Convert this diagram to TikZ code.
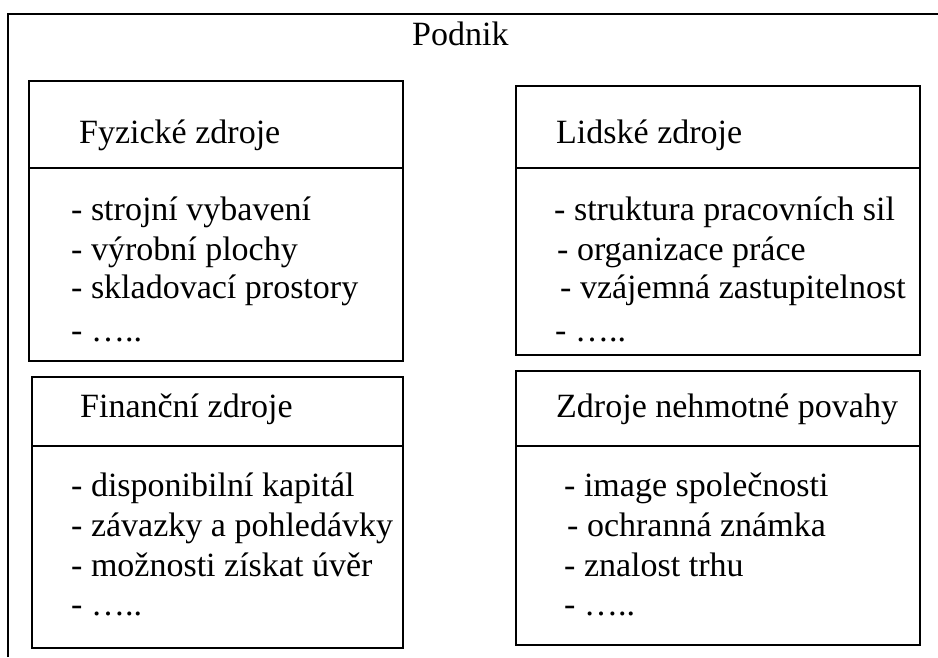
\documentclass[tikz,border=0pt]{standalone}
\usepackage{fontspec}
\setmainfont{Liberation Serif}
\begin{document}
\begin{tikzpicture}[x=1pt,y=-1pt,
  frame/.style={line width=1.4pt},
  resbox/.style={draw, line width=1.4pt, anchor=north west, inner sep=0pt, outer sep=0pt},
  txt/.style={anchor=base west, inner sep=0pt, font=\fontsize{34}{40}\selectfont},
]
\useasboundingbox (0,0) rectangle (938,657);
\fill[white] (0,0) rectangle (938,657);

% enterprise frame (open to the right and bottom)
\draw[frame] (8,657) |- (938,14);
\node[txt] (podnik) at (412,45) {Podnik};

% resource boxes
\node[resbox, minimum width=374pt, minimum height=280pt] (fyz) at (29,81) {};
\node[resbox, minimum width=404pt, minimum height=269pt] (lid) at (516,86) {};
\node[resbox, minimum width=371pt, minimum height=271pt] (fin) at (32,377) {};
\node[resbox, minimum width=404pt, minimum height=274pt] (neh) at (516,371) {};

% header dividers
\draw[frame] (fyz.west |- 0,168) -- (fyz.east |- 0,168);
\draw[frame] (lid.west |- 0,168) -- (lid.east |- 0,168);
\draw[frame] (fin.west |- 0,446) -- (fin.east |- 0,446);
\draw[frame] (neh.west |- 0,446) -- (neh.east |- 0,446);

% physical resources
\node[txt] (fyzT) at (79,143) {Fyzické zdroje};
\node[txt] (fyz1) at (71,220) {- strojní vybavení};
\node[txt] (fyz2) at (71,260) {- výrobní plochy};
\node[txt] (fyz3) at (71,298) {- skladovací prostory};
\node[txt] (fyz4) at (71,341) {- …..};

% human resources
\node[txt] (lidT) at (556,143) {Lidské zdroje};
\node[txt] (lid1) at (554,220) {- struktura pracovních sil};
\node[txt] (lid2) at (557,260) {- organizace práce};
\node[txt] (lid3) at (560,298) {- vzájemná zastupitelnost};
\node[txt] (lid4) at (555,341) {- …..};

% financial resources
\node[txt] (finT) at (80,417) {Finanční zdroje};
\node[txt] (fin1) at (71,496) {- disponibilní kapitál};
\node[txt] (fin2) at (71,536) {- závazky a pohledávky};
\node[txt] (fin3) at (71,576) {- možnosti získat úvěr};
\node[txt] (fin4) at (71,615) {- …..};

% intangible resources
\node[txt] (nehT) at (556,417) {Zdroje nehmotné povahy};
\node[txt] (neh1) at (564,496) {- image společnosti};
\node[txt] (neh2) at (567,536) {- ochranná známka};
\node[txt] (neh3) at (564,576) {- znalost trhu};
\node[txt] (neh4) at (564,615) {- …..};
\end{tikzpicture}
\end{document}
